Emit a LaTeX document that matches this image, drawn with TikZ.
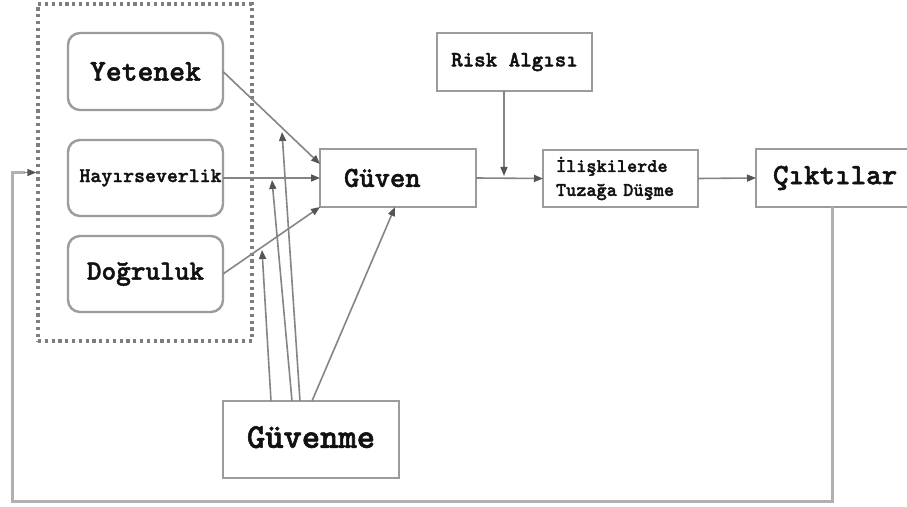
\documentclass[tikz,border=0pt]{standalone}
\usepackage{fontspec}
\newfontfamily\cour[FakeBold=1.6]{lmmonolt10-bold.otf}
\usetikzlibrary{arrows.meta,calc}
\definecolor{boxc}{HTML}{9C9C9C}
\definecolor{linec}{HTML}{858585}
\definecolor{tipc}{HTML}{555555}
\definecolor{txtc}{HTML}{111111}
\definecolor{fbc}{HTML}{B0B0B0}
\definecolor{dotc}{HTML}{7E7E7E}
\newcommand{\ff}[1]{\cour\fontsize{#1}{#1}\selectfont}
\begin{document}
\begin{tikzpicture}[x=1bp,y=-1bp,
  box/.style={draw=boxc,line width=2.4bp,inner sep=0pt,outer sep=0pt,fill=white,text=txtc},
  rbox/.style={box,rounded corners=12bp},
  arr/.style={draw=linec,line width=1.6bp,-{Triangle[length=9bp,width=7bp,fill=tipc,color=tipc]}},
  grpbox/.style={draw=dotc,line width=3.4bp,dash pattern=on 3.2bp off 3.6bp,inner sep=0pt,minimum width=214bp,minimum height=337bp}
]
\useasboundingbox (0,0) rectangle (907,507);
\fill[white] (0,0) rectangle (907,507);
\clip (0,0) rectangle (907,507);

% group (dotted)
\node[grpbox] (grp) at (145,172.5) {};

% factor boxes
\node[rbox,minimum width=155bp,minimum height=77bp] (yt) at (145.5,71.5) {\ff{30.3}Yetenek};
\node[rbox,minimum width=155bp,minimum height=76bp] (hy) at (145.5,178) {\ff{20.9}\hspace*{10bp}Hayırseverlik};
\node[rbox,minimum width=155bp,minimum height=76bp] (dg) at (145.5,274) {\ff{28}Doğruluk};

% main boxes
\node[box,minimum height=58bp,text width=108bp,inner xsep=24bp,align=left] (gv) at (398,178) {\ff{29.3}Güven};
\node[box,minimum width=176bp,minimum height=77bp] (gm) at (311,439.5) {\raisebox{5bp}{\ff{35}Güvenme}};
\node[box,minimum width=155bp,minimum height=58bp] (rk) at (514.5,62) {\ff{22}Risk Algısı};
\node[box,minimum height=57bp,text width=129bp,inner xsep=13bp,align=left,font=\cour\fontsize{19.4}{21}\selectfont] (il) at (620.5,178.5) {İlişkilerde\\[3bp]Tuzağa Düşme};
\node[box,minimum height=58bp,text width=125bp,inner xsep=17bp,align=left] (ct) at (835.5,178) {\ff{29.7}Çıktılar};

% free ends
\coordinate (m1) at (262,250);
\coordinate (m2) at (272,180);
\coordinate (m3) at (282,132);
\coordinate (rkend) at (504,176);
\coordinate (c1) at (832,501);
\coordinate (c2) at (12,501);

% factor -> trust
\draw[arr] (yt.east) -- ($(gv.west)+(0,-14)$);
\draw[arr] (hy.east) -- (gv.west);
\draw[arr] (dg.east) -- (gv.south west);

% reliance moderations
\draw[arr] ($(gm.north west)+(48,0)$) -- (m1);
\draw[arr] ($(gm.north west)+(69,0)$) -- (m2);
\draw[arr] ($(gm.north west)+(77,0)$) -- (m3);
\draw[arr] ($(gm.north west)+(89,0)$) -- ($(gv.south)+(-3,0)$);

% main chain
\draw[arr] (gv.east) -- (il.west);
\draw[arr] ($(rk.south)+(-10.5,0)$) -- (rkend);
\draw[arr] (il.east) -- (ct.west);

% feedback
\draw[fbc,line width=3bp] (ct.south -| c1) -- (c1) -- (c2) -- (c2 |- grp.west) -- ($(grp.west)+(-11,0)$);
\draw[arr] ($(grp.west)+(-12,0)$) -- (grp.west);
\end{tikzpicture}
\end{document}
